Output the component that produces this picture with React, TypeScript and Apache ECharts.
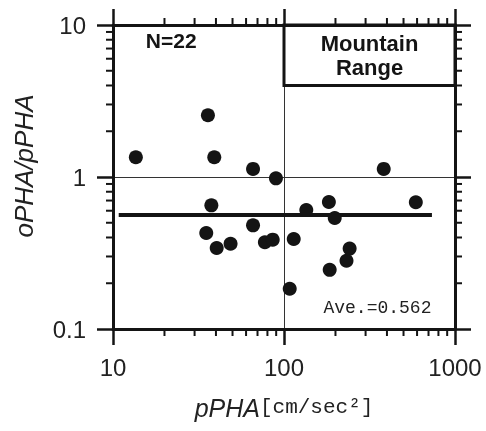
import React, { useEffect, useRef } from "react";
import * as echarts from "echarts";

// pPHA [cm/sec^2]
const pPHA = [13.6, 35.9, 39.1, 65.9, 89.7, 383, 37.6, 35.1, 40.4, 48.7, 65.9, 77.3, 85.9, 114, 108, 135, 183, 198, 185, 232, 242, 590];
// oPHA / pPHA
const ratio = [1.35, 2.55, 1.35, 1.13, 0.98, 1.13, 0.651, 0.428, 0.341, 0.364, 0.481, 0.372, 0.387, 0.391, 0.184, 0.607, 0.685, 0.537, 0.245, 0.281, 0.338, 0.682];

const AVERAGE = 0.562;
const avgLineX = [10.8, 733];
const X_MIN = 10;
const X_MAX = 1000;
const Y_MIN = 0.1;
const Y_MAX = 10;
const xMinorTicks = [20, 30, 40, 50, 60, 70, 80, 90, 200, 300, 400, 500, 600, 700, 800, 900];
const yMinorTicks = [0.2, 0.3, 0.4, 0.5, 0.6, 0.7, 0.8, 0.9, 2, 3, 4, 5, 6, 7, 8, 9];
const regionBox = [[100, 4], [1000, 10]];
const regionLabel = "Mountain\nRange";
const nLabel = "N=22";
const nLabelAt = [21.9, 7.9];
const aveLabel = "Ave.=0.562";
const aveLabelAt = [352, 0.138];

const INK = "#141414";
const SANS = "'Liberation Sans', Arial, Helvetica, sans-serif";
const MONO = "'Liberation Mono', 'DejaVu Sans Mono', monospace";

const TICK_LEN = 7;
const TICK_W = 2;

export default function App() {
  const ref = useRef<HTMLDivElement>(null);
  useEffect(() => {
    if (!ref.current) return;
    const chart = echarts.init(ref.current, undefined, { renderer: "svg" });
    const mkLine = () => ({ show: true, lineStyle: { color: INK, width: 3 } });
    const mkTick = () => ({ show: true, inside: false, length: 16, lineStyle: { color: INK, width: 2.5 } });
    const fmt = (v: number) => String(v);
    chart.setOption({
      animation: false,
      grid: { left: 113, right: 31, top: 25, bottom: 102 },
      xAxis: [
        {
          type: "log", min: X_MIN, max: X_MAX, position: "bottom",
          axisLine: mkLine(), axisTick: mkTick(),
          axisLabel: { show: true, color: "#222", fontSize: 24, fontFamily: SANS, margin: 26, formatter: fmt },
          splitLine: { show: true, lineStyle: { color: "#333", width: 1 } },
          name: "{a|pPHA}{b|[cm/sec²]}",
          nameLocation: "middle", nameGap: 66,
          nameTextStyle: {
            rich: {
              a: { fontSize: 25, fontStyle: "italic", fontFamily: SANS, color: "#222" },
              b: { fontSize: 21, fontFamily: MONO, color: "#222" },
            },
          },
        },
        {
          type: "log", min: X_MIN, max: X_MAX, position: "top",
          axisLine: mkLine(), axisTick: mkTick(), axisLabel: { show: false }, splitLine: { show: false },
        },
      ],
      yAxis: [
        {
          type: "log", min: Y_MIN, max: Y_MAX, position: "left",
          axisLine: mkLine(), axisTick: mkTick(),
          axisLabel: { show: true, color: "#222", fontSize: 24, fontFamily: SANS, margin: 27, formatter: fmt },
          splitLine: { show: true, lineStyle: { color: "#333", width: 1 } },
          name: "oPHA/pPHA",
          nameLocation: "middle", nameGap: 76,
          nameTextStyle: { fontSize: 26, fontStyle: "italic", fontFamily: SANS, color: "#222", padding: [0, 0, 0, 22] },
        },
        {
          type: "log", min: Y_MIN, max: Y_MAX, position: "right",
          axisLine: mkLine(), axisTick: mkTick(), axisLabel: { show: false }, splitLine: { show: false },
        },
      ],
      series: [
        {
          type: "line",
          data: avgLineX.map((x) => [x, AVERAGE]),
          symbol: "none",
          lineStyle: { color: INK, width: 4 },
          z: 3,
          markArea: {
            silent: true,
            itemStyle: { color: "rgba(0,0,0,0)", borderColor: INK, borderWidth: 3 },
            label: {
              show: true, position: "inside", color: INK, fontSize: 22, fontWeight: "bold",
              fontFamily: SANS, lineHeight: 24, formatter: regionLabel,
            },
            data: [[{ coord: regionBox[0] }, { coord: regionBox[1] }]],
          },
          markPoint: {
            silent: true,
            symbol: "circle",
            symbolSize: 1,
            itemStyle: { color: "rgba(0,0,0,0)" },
            data: [
              {
                coord: nLabelAt,
                label: { show: true, position: "inside", formatter: nLabel, color: INK, fontSize: 21, fontWeight: "bold", fontFamily: SANS },
              },
              {
                coord: aveLabelAt,
                label: { show: true, position: "inside", formatter: aveLabel, color: "#222", fontSize: 18, fontFamily: MONO },
              },
            ],
          },
        },
        {
          type: "scatter",
          data: pPHA.map((x, i) => [x, ratio[i]]),
          symbol: "circle",
          symbolSize: 14,
          itemStyle: { color: INK, opacity: 1 },
          z: 4,
        },
      ],
    });

    // Minor ticks (2..9 per decade), placed through the chart's own scales.
    const toPx = (v: number[]) => chart.convertToPixel({ gridIndex: 0 }, v) as number[];
    const ticks: any[] = [];
    const add = (x1: number, y1: number, x2: number, y2: number) =>
      ticks.push({ type: "rect", shape: { x: Math.min(x1, x2) - (x1 === x2 ? TICK_W / 2 : 0), y: Math.min(y1, y2) - (y1 === y2 ? TICK_W / 2 : 0), width: x1 === x2 ? TICK_W : Math.abs(x2 - x1), height: y1 === y2 ? TICK_W : Math.abs(y2 - y1) }, style: { fill: INK } });
    xMinorTicks.forEach((v) => {
      const b = toPx([v, Y_MIN]);
      const t = toPx([v, Y_MAX]);
      add(b[0], b[1], b[0], b[1] + TICK_LEN);
      add(t[0], t[1], t[0], t[1] - TICK_LEN);
    });
    yMinorTicks.forEach((v) => {
      const l = toPx([X_MIN, v]);
      const r = toPx([X_MAX, v]);
      add(l[0], l[1], l[0] - TICK_LEN, l[1]);
      add(r[0], r[1], r[0] + TICK_LEN, r[1]);
    });
    chart.setOption({ graphic: { elements: ticks } });
    return () => chart.dispose();
  }, []);
  return <div ref={ref} style={{ position: "fixed", left: 0, top: 0, width: 486, height: 431 }} />;
}
